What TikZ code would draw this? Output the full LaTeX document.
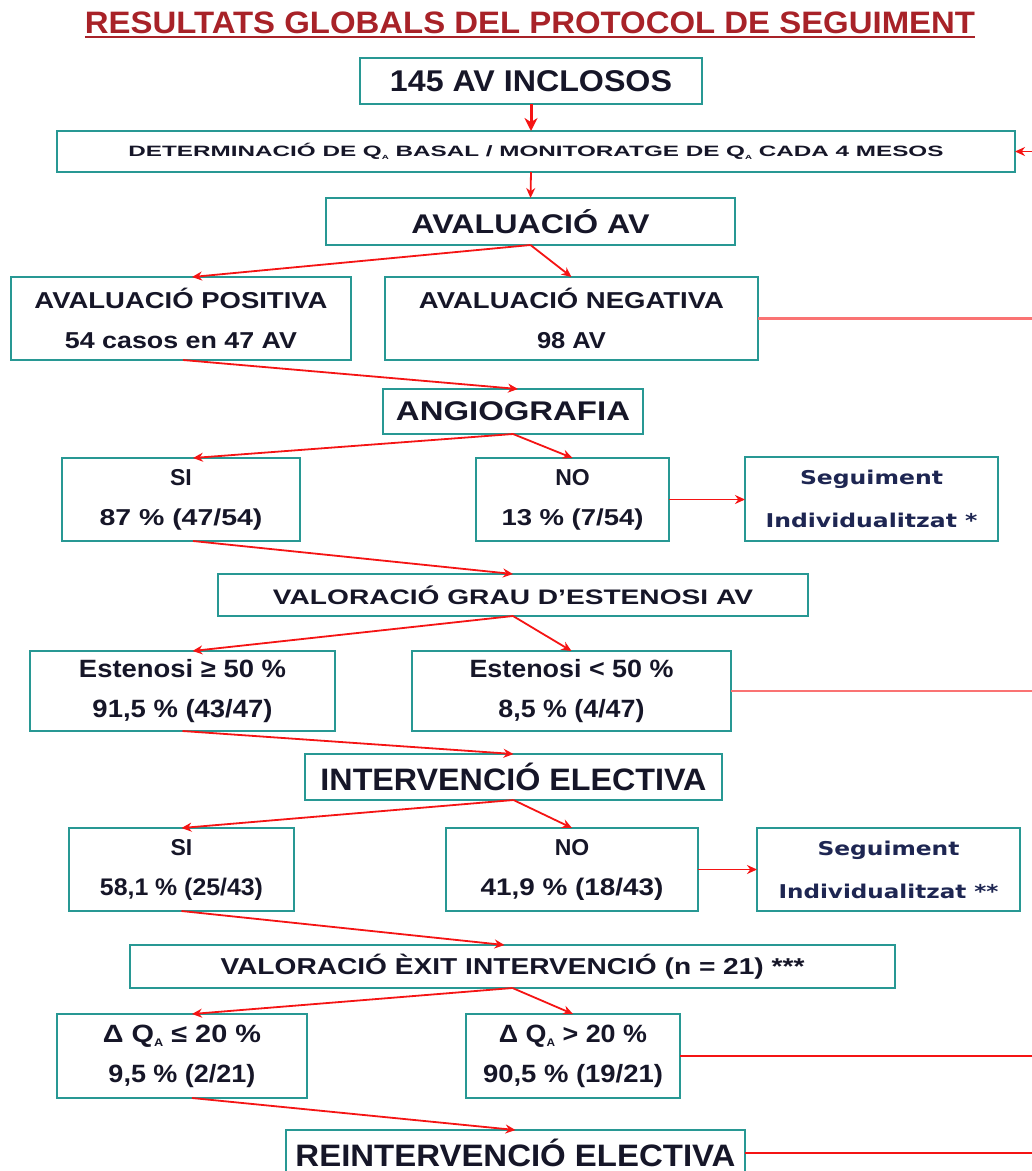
\documentclass[tikz,border=0pt]{standalone}
\usepackage{graphicx}
\usepackage{fontspec}
\setmainfont{Liberation Sans}
\newfontfamily\verd{DejaVu Sans}
\usetikzlibrary{arrows.meta,calc}

% text of a given width (pt) at a given size (pt), scaled horizontally only
\newcommand\fitw[3]{{\fontsize{#2}{#2}\selectfont\resizebox{#1pt}{\height}{#3}}}
\newcommand\qa[1]{Q\raisebox{-0.18em}{\fontsize{#1}{#1}\selectfont A}}

\definecolor{boxteal}{RGB}{40,152,148}
\definecolor{txt}{RGB}{22,22,40}
\definecolor{navy}{RGB}{30,38,82}
\definecolor{titlered}{RGB}{168,34,40}
\definecolor{arrred}{RGB}{245,20,20}
\definecolor{linepink}{RGB}{250,115,115}

\tikzset{
  box/.style={draw=boxteal, line width=2.4pt, inner sep=0pt, outer sep=0pt,
    fill=white, text=txt, align=center, font=\bfseries},
  twoline/.style={box, font=\bfseries\fontsize{23}{40}\selectfont},
  segbox/.style={box, text=navy, font=\verd\bfseries\fontsize{19}{43}\selectfont},
  arr/.style={draw=arrred, line width=1.8pt, -{Stealth[length=10pt,width=9pt]}},
  bigarr/.style={draw=arrred, line width=3pt, -{Stealth[length=13pt,width=13pt]}},
  pinkline/.style={draw=linepink, line width=2.4pt},
  redline/.style={draw=arrred, line width=2pt},
}

\begin{document}
\begin{tikzpicture}[x=1pt,y=-1pt]
\useasboundingbox[fill=white] (0,0) rectangle (1032,1171);
\coordinate (edge) at (1032,0);

% title
\node[inner sep=0pt, anchor=base, text=titlered, font=\bfseries] (title) at (530,33)
  {\fitw{890}{31}{RESULTATS GLOBALS DEL PROTOCOL DE SEGUIMENT}};
\draw[titlered, line width=2pt] ([yshift=-4pt]title.base west) -- ([yshift=-4pt]title.base east);

% main column
\node[box, minimum width=342pt, minimum height=46pt] (inc) at (531,81)
  {\fitw{282}{30}{145 AV INCLOSOS}};
\node[box, minimum width=958pt, minimum height=41pt] (det) at (536,151.5)
  {\fitw{815}{15}{DETERMINACIÓ DE \qa{6} BASAL /  MONITORATGE DE \qa{6} CADA 4 MESOS}};
\node[box, minimum width=409pt, minimum height=47pt] (av) at (530.5,221.5)
  {\fitw{238}{27}{AVALUACIÓ AV}};

\node[twoline, minimum width=340pt, minimum height=83pt] (pos) at (181,318.5)
  {\fitw{293}{23}{AVALUACIÓ POSITIVA}\\\fitw{232}{23}{54 casos en 47 AV}};
\node[twoline, minimum width=373pt, minimum height=83pt] (neg) at (571.5,318.5)
  {\fitw{305}{23}{AVALUACIÓ NEGATIVA}\\\fitw{69}{23}{98 AV}};

\node[box, minimum width=260pt, minimum height=45pt] (ang) at (513,411.5)
  {\fitw{234}{27}{ANGIOGRAFIA}};

\node[twoline, minimum width=238pt, minimum height=83pt] (si1) at (181,499.5)
  {SI\\\fitw{163}{23}{87 \%  (47/54)}};
\node[twoline, minimum width=193pt, minimum height=83pt] (no1) at (572.5,499.5)
  {NO\\\fitw{142}{23}{13 \% (7/54)}};
\node[segbox, minimum width=253pt, minimum height=84pt] (seg1) at (871.5,499)
  {\fitw{143}{19}{Seguiment}\\\fitw{212}{19}{Individualitzat *}};

\node[box, minimum width=590pt, minimum height=42pt] (val) at (513,595)
  {\fitw{480}{21}{VALORACIÓ  GRAU  D'ESTENOSI AV}};

\node[twoline, minimum width=305pt, minimum height=80pt] (est1) at (182.5,691)
  {\fitw{207}{25}{Estenosi ≥ 50 \%}\\\fitw{180}{25}{91,5 \% (43/47)}};
\node[twoline, minimum width=319pt, minimum height=80pt] (est2) at (571.5,691)
  {\fitw{204}{25}{Estenosi < 50 \%}\\\fitw{146}{25}{8,5 \% (4/47)}};

\node[box, minimum width=417pt, minimum height=46pt] (int) at (513.5,777)
  {\fitw{386}{31}{INTERVENCIÓ ELECTIVA}};

\node[twoline, minimum width=225pt, minimum height=83pt] (si2) at (181.5,869.5)
  {SI\\\fitw{163}{24}{58,1 \% (25/43)}};
\node[twoline, minimum width=252pt, minimum height=83pt] (no2) at (572,869.5)
  {NO\\\fitw{183}{24}{41,9 \% (18/43)}};
\node[segbox, minimum width=263pt, minimum height=83pt] (seg2) at (888.5,869.5)
  {\fitw{142}{19}{Seguiment}\\\fitw{220}{19}{Individualitzat **}};

\node[box, minimum width=765pt, minimum height=43pt] (exit) at (512.5,966.5)
  {\fitw{584}{23}{VALORACIÓ ÈXIT INTERVENCIÓ (n = 21) ***}};

\node[twoline, minimum width=250pt, minimum height=84pt] (dq1) at (182,1056)
  {\fitw{158}{25}{Δ \qa{11}  ≤ 20 \%}\\\fitw{147}{25}{9,5 \% (2/21)}};
\node[twoline, minimum width=214pt, minimum height=84pt] (dq2) at (573,1056)
  {\fitw{148}{25}{Δ \qa{11} > 20 \%}\\\fitw{180}{25}{90,5 \% (19/21)}};

\node[box, minimum width=459pt, minimum height=46pt] (re) at (515.5,1153)
  {\fitw{440}{31}{REINTERVENCIÓ ELECTIVA}};

% connectors
\draw[bigarr] (inc.south) -- (det.north -| inc.south);
\draw[arr] (det.south -| inc.south) -- (av.north);
\draw[arr] (av.south) -- ($(pos.north)+(11,0)$);
\draw[arr] (av.south) -- (neg.north);
\draw[arr] ($(pos.south)+(2,0)$) -- ($(ang.north)+(5,0)$);
\draw[arr] (ang.south) -- ($(si1.north)+(12,0)$);
\draw[arr] (ang.south) -- (no1.north);
\draw[arr] (no1.east) -- (seg1.west |- no1.east);
\draw[arr] ($(si1.south)+(12,0)$) -- (val.north);
\draw[arr] (val.south) -- ($(est1.north)+(10,0)$);
\draw[arr] (val.south) -- (est2.north);
\draw[arr] (est1.south) -- (int.north);
\draw[arr] (int.south) -- (si2.north);
\draw[arr] (int.south) -- (no2.north);
\draw[arr] (no2.east) -- (seg2.west |- no2.east);
\draw[arr] (si2.south) -- ($(exit.north)+(-8,0)$);
\draw[arr] (exit.south) -- ($(dq1.north)+(10,0)$);
\draw[arr] (exit.south) -- (dq2.north);
\draw[arr] ($(dq1.south)+(10,0)$) -- (re.north);

% return paths to the monitoring step
\draw[pinkline] (neg.east) -- (neg.east -| edge);
\draw[pinkline] (est2.east) -- (est2.east -| edge);
\draw[redline] (dq2.east) -- (dq2.east -| edge);
\draw[redline] (re.east) -- (re.east -| edge);
\draw[arr] (det.east -| edge) -- (det.east);
\end{tikzpicture}
\end{document}
